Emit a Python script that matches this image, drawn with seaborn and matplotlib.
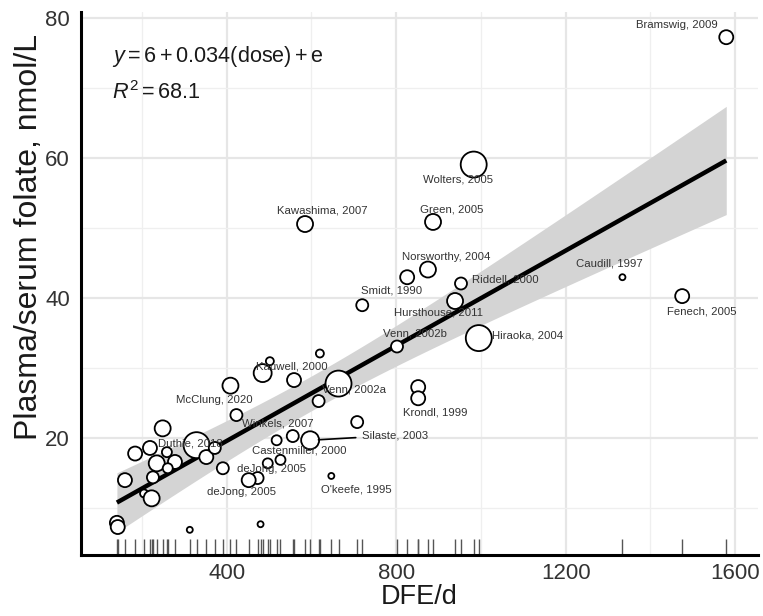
import numpy as np
import pandas as pd
import seaborn as sns
import matplotlib.pyplot as plt
from matplotlib.ticker import FixedLocator

# ---------------- data ----------------
dose = [1579, 983, 887, 585, 875, 826, 720, 953, 939, 802, 995, 852, 852, 1334, 1475,
        664, 485, 502, 559, 620, 617, 409, 423, 329, 597, 556, 518, 527, 497, 473,
        452, 391, 647, 708, 249, 184, 219, 235, 278, 352, 372, 259, 261, 226, 160,
        205, 223, 141, 143, 313, 480]
folate = [77.3, 59.1, 50.9, 50.6, 44.1, 43.0, 39.0, 42.1, 39.6, 33.1, 34.3, 27.3, 25.7, 43.0, 40.3,
          27.8, 29.3, 31.0, 28.3, 32.1, 25.3, 27.5, 23.3, 19.0, 19.7, 20.3, 19.7, 16.9, 16.4, 14.3,
          14.0, 15.7, 14.6, 22.3, 21.4, 17.8, 18.6, 16.4, 16.6, 17.3, 18.6, 18.0, 15.7, 14.4, 14.0,
          12.1, 11.4, 7.9, 7.3, 6.9, 7.7]
weight = [49, 169, 64, 64, 64, 49, 36, 36, 64, 36, 169, 49, 49, 9, 49,
          169, 81, 16, 49, 16, 36, 64, 36, 169, 81, 36, 25, 25, 25, 36,
          49, 36, 9, 36, 64, 49, 49, 64, 49, 49, 36, 25, 25, 36, 49,
          16, 64, 49, 49, 9, 9]

# meta-regression coefficients as printed on the chart
intercept = 6.0
slope = 0.034

label_text = ["Bramswig, 2009", "Wolters, 2005", "Green, 2005", "Kawashima, 2007",
              "Norsworthy, 2004", "Smidt, 1990", "Riddell, 2000", "Hursthouse, 2011",
              "Venn, 2002b", "Hiraoka, 2004", "Krondl, 1999", "Caudill, 1997",
              "Fenech, 2005", "Venn, 2002a", "Kauwell, 2000", "McClung, 2020",
              "Winkels, 2007", "Duthie, 2018", "Castenmiller, 2000", "deJong, 2005",
              "deJong, 2005", "O'keefe, 1995"]
# layout: label anchor positions (data coordinates)
label_x = [1462, 946, 931, 625, 918, 790, 1057, 901, 844, 1109, 893, 1302,
           1522, 700, 553, 372, 520, 315, 572, 505, 436, 705]
label_y = [79.1, 56.9, 52.7, 52.6, 45.9, 41.1, 42.7, 37.9, 34.9, 34.7, 23.6, 44.9,
           38.1, 26.9, 30.3, 25.4, 22.1, 19.3, 18.3, 15.6, 12.3, 12.7]

silaste_index = 24
silaste_text = "Silaste, 2003"
silaste_pos = (797, 20.4)

eq_line1 = r"$y = 6 + 0.034(\mathrm{dose}) + \mathrm{e}$"
eq_line2 = r"$R^2 = 68.1$"

x_ticks = [400, 800, 1200, 1600]
x_minor = [200, 600, 1000, 1400]
y_ticks = [20, 40, 60, 80]
y_minor = [10, 30, 50, 70]

df = pd.DataFrame({"dose": dose, "folate": folate, "weight": weight})

# ---------------- style ----------------
sns.set_theme(style="white")
plt.rcParams["font.family"] = ["Liberation Sans", "DejaVu Sans"]
plt.rcParams["mathtext.fontset"] = "custom"
plt.rcParams["mathtext.rm"] = "Liberation Sans"
plt.rcParams["mathtext.it"] = "Liberation Sans:italic"

fig = plt.figure(figsize=(7.63, 6.16), dpi=100)
ax = fig.add_axes([0.106, 0.099, 0.8875, 0.8815])

ax.set_xlim(56, 1654)
ax.set_ylim(3.3, 80.9)

# grid
for v in x_minor:
    ax.axvline(v, color="#efefef", lw=0.9, zorder=0)
for v in x_ticks:
    ax.axvline(v, color="#e6e6e6", lw=1.6, zorder=0)
for v in y_minor:
    ax.axhline(v, color="#efefef", lw=0.9, zorder=0)
for v in y_ticks:
    ax.axhline(v, color="#e6e6e6", lw=1.6, zorder=0)

# fitted line + 95% CI (weighted, from the data)
X = np.column_stack([np.ones(len(df)), df["dose"].to_numpy(float)])
W = df["weight"].to_numpy(float) / df["weight"].mean()
yv = df["folate"].to_numpy(float)
beta = np.array([intercept, slope])
cov_base = np.linalg.inv((X.T * W) @ X)
res = yv - X @ beta
sigma2 = np.sum(W * res ** 2) / (len(df) - 2)
xs = np.linspace(df["dose"].min(), df["dose"].max(), 200)
Xs = np.column_stack([np.ones_like(xs), xs])
fit = Xs @ beta
se = np.sqrt(np.einsum("ij,jk,ik->i", Xs, cov_base * sigma2, Xs))
ax.fill_between(xs, fit - 1.96 * se, fit + 1.96 * se, color="#d4d4d4", lw=0, zorder=1)
ax.plot(xs, fit, color="black", lw=3.2, zorder=2, solid_capstyle="butt")

# rug
sns.rugplot(data=df, x="dose", ax=ax, height=0.03, color="#555555", lw=0.8, zorder=1)

# points
wmin, wmax = min(weight), max(weight)
sns.scatterplot(data=df, x="dose", y="folate", size="weight",
                sizes=(2.07 * wmin, 2.07 * wmax), size_norm=(wmin, wmax),
                color="white", edgecolor="black", linewidth=1.3, legend=False,
                ax=ax, zorder=3)

# labels
for t, lx, ly in zip(label_text, label_x, label_y):
    ax.text(lx, ly, t, ha="center", va="center", fontsize=8.2, color="#333333", zorder=4)
ax.annotate(silaste_text, xy=(dose[silaste_index], folate[silaste_index]),
            xytext=silaste_pos, ha="center", va="center", fontsize=8.2, color="#333333",
            arrowprops=dict(arrowstyle="-", color="black", lw=1.2, shrinkA=2, shrinkB=6),
            zorder=4)

ax.text(0.046, 0.918, eq_line1, transform=ax.transAxes, fontsize=15.6,
        ha="left", va="center", color="#1a1a1a")
ax.text(0.046, 0.852, eq_line2, transform=ax.transAxes, fontsize=15.6,
        ha="left", va="center", color="#1a1a1a")

# axes
ax.xaxis.set_major_locator(FixedLocator(x_ticks))
ax.yaxis.set_major_locator(FixedLocator(y_ticks))
ax.tick_params(axis="x", length=0, labelsize=16, colors="#333333", pad=6)
ax.tick_params(axis="y", length=0, labelsize=16, colors="#333333", pad=8)
ax.set_xlabel("DFE/d", fontsize=19.5, color="#1a1a1a", labelpad=0)
ax.set_ylabel("Plasma/serum folate, nmol/L", fontsize=23, color="#1a1a1a")
ax.yaxis.set_label_coords(-0.054, 0.585)
for s in ["top", "right"]:
    ax.spines[s].set_visible(False)
for s in ["left", "bottom"]:
    ax.spines[s].set_color("black")
    ax.spines[s].set_linewidth(2.2)

fig.savefig("out.png", dpi=100)
